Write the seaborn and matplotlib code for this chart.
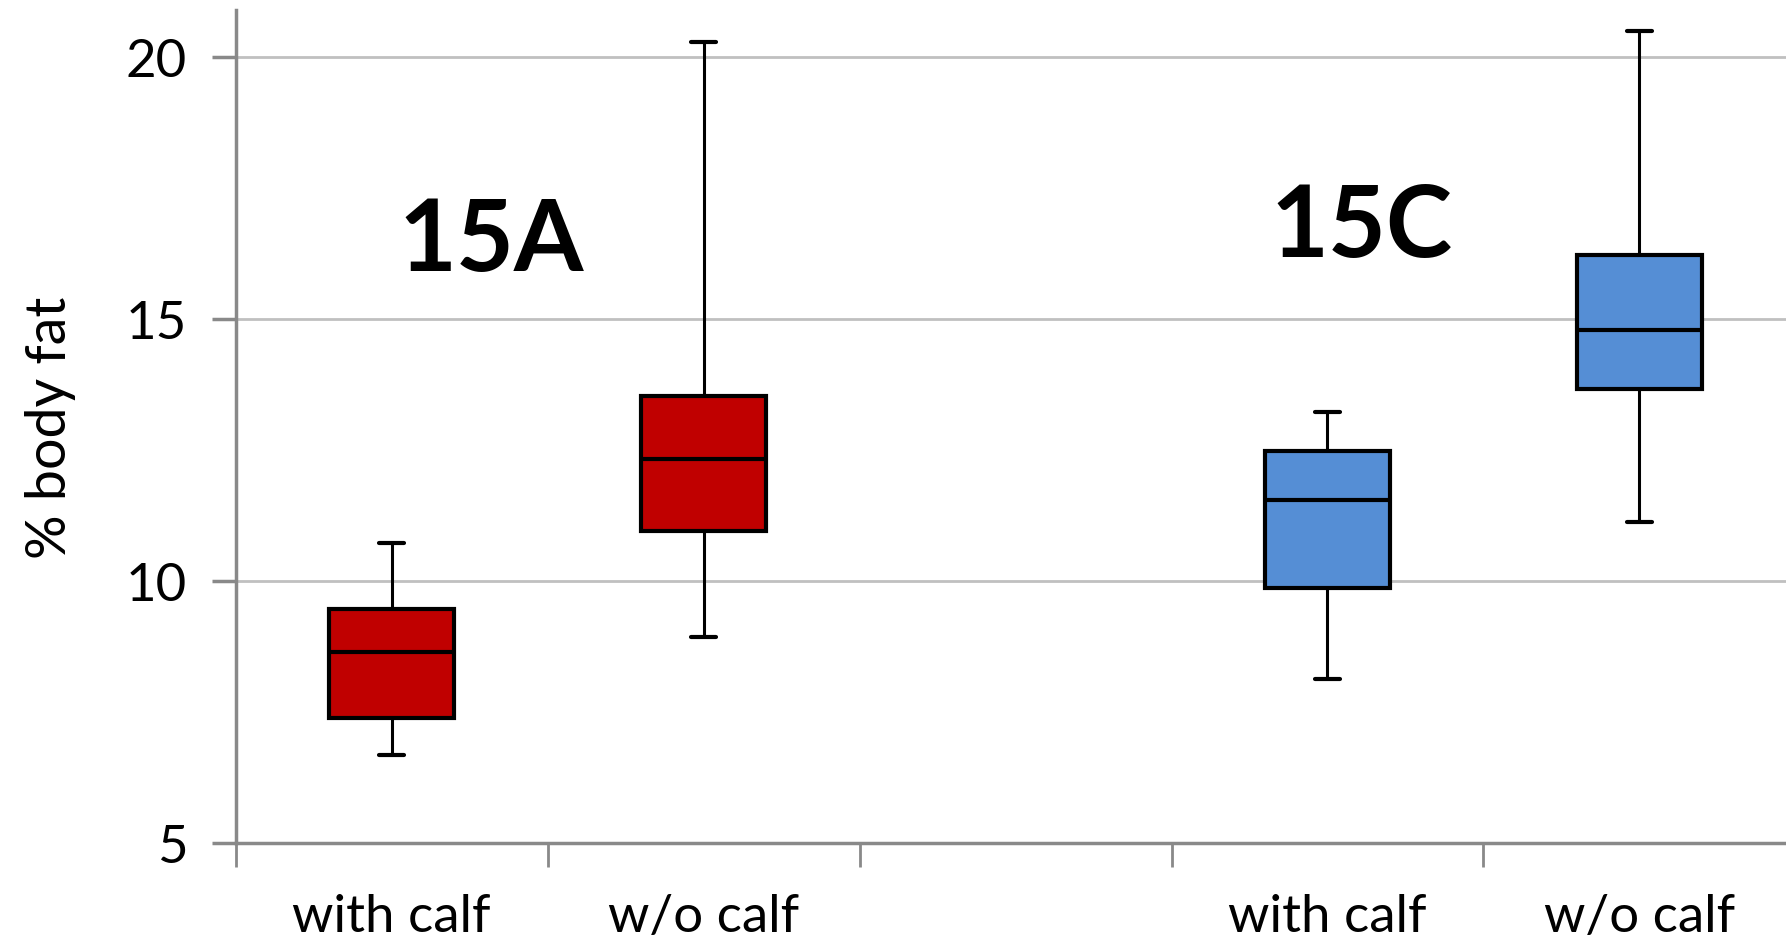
import numpy as np
import pandas as pd
import matplotlib
matplotlib.use("Agg")
import matplotlib.pyplot as plt
import seaborn as sns

# box statistics (% body fat)
groups = ["15A with calf", "15A w/o calf", "15C with calf", "15C w/o calf"]
tick_labels = ["with calf", "w/o calf", "with calf", "w/o calf"]
lower_whisker = [6.67, 8.93, 8.13, 11.13]
q1 = [7.39, 10.96, 9.87, 13.67]
median = [8.65, 12.33, 11.54, 14.80]
q3 = [9.46, 13.54, 12.48, 16.22]
upper_whisker = [10.72, 20.30, 13.22, 20.50]
colors = ["#C00000", "#C00000", "#558ED5", "#558ED5"]
panel_labels = ["15A", "15C"]

# five points per group give exactly these quartiles / whiskers
rows = []
for i, g in enumerate(groups):
    for v in [lower_whisker[i], q1[i], median[i], q3[i], upper_whisker[i]]:
        rows.append({"group": g, "fat": v})
df = pd.DataFrame(rows)

order = [groups[0], groups[1], "gap", groups[2], groups[3]]

sns.set_style("white")
plt.rcParams["font.family"] = ["Lato", "DejaVu Sans"]
plt.rcParams["text.color"] = "black"
plt.rcParams["axes.labelcolor"] = "black"
plt.rcParams["xtick.color"] = "black"
plt.rcParams["ytick.color"] = "black"

fig = plt.figure(figsize=(17.86, 9.45), dpi=100)
ax = fig.add_axes([0.132, 0.107, 0.868, 0.881])

sns.boxplot(data=df, x="group", y="fat", hue="group", order=order,
            hue_order=groups, palette=dict(zip(groups, colors)),
            whis=(0, 100), width=0.4, linecolor="black", linewidth=3,
            saturation=1, legend=False, capwidths=0.08, ax=ax,
            whiskerprops={"linewidth": 2.2}, capprops={"linewidth": 3},
            medianprops={"linewidth": 3}, zorder=3)

ax.set_ylim(5, 20.9)
ax.set_xlim(-0.5, 4.47)
ax.set_yticks([5, 10, 15, 20])
ax.set_yticklabels(["5", "10", "15", "20"], fontsize=38)
ax.yaxis.grid(True, color="#C0C0C0", linewidth=2, zorder=0)
ax.set_axisbelow(True)

ax.set_xticks([0, 1, 3, 4])
ax.set_xticklabels(tick_labels, fontsize=38)
ax.set_xticks([-0.5, 0.5, 1.5, 2.5, 3.5], minor=True)
ax.tick_params(axis="x", which="major", bottom=True, length=0, pad=36,
               labelcolor="black")
ax.tick_params(axis="x", which="minor", bottom=True, length=17, width=2,
               color="#898989", direction="out")
ax.tick_params(axis="y", left=True, length=17, width=2.5, color="#898989",
               direction="out", pad=18, labelcolor="black")

for side in ["top", "right"]:
    ax.spines[side].set_visible(False)
for side in ["left", "bottom"]:
    ax.spines[side].set_color("#898989")
    ax.spines[side].set_linewidth(2.5)

ax.set_xlabel("")
ax.set_ylabel("% body fat", fontsize=40, labelpad=36, color="black")

ax.text(0.32, 16.48, panel_labels[0], fontsize=72, fontweight="bold",
        ha="center", va="center", color="black")
ax.text(3.11, 16.76, panel_labels[1], fontsize=72, fontweight="bold",
        ha="center", va="center", color="black")

fig.savefig("out.png", dpi=100)
